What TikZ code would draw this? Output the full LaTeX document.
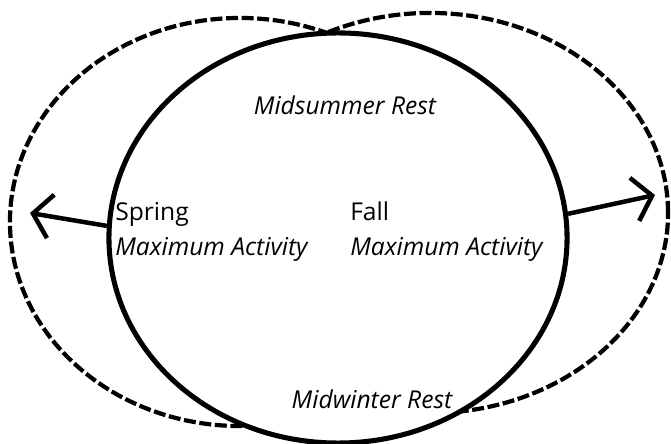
\documentclass[tikz,border=0pt]{standalone}
\usepackage{fontspec}
\setmainfont{Open Sans}
\usetikzlibrary{arrows.meta,shapes.geometric}

\begin{document}
\begin{tikzpicture}[
    x=0.025cm, y=-0.025cm,
    cyclebox/.style={draw, ellipse, line width=3.6pt, fill=white, minimum width=11.45cm, minimum height=10.25cm, inner sep=0pt},
    lobe/.style={line width=3pt, dash pattern=on 0.3cm off 0.09cm},
    season/.style={font=\fontsize{17.5}{21}\selectfont, inner sep=0pt},
    phase/.style={font=\fontsize{17.5}{21}\selectfont\itshape, inner sep=0pt},
    arr/.style={-{Straight Barb[length=0.45cm, width=1.1cm, line width=3.2pt]}, line width=3.2pt}
]
\useasboundingbox (0,0) rectangle (671,444);

% dashed outer lobes
\draw[lobe] (240,222) ellipse [x radius=5.75cm, y radius=5.1cm];
\draw[lobe] (430,213) ellipse [x radius=5.95cm, y radius=5cm];

% solid year cycle
\node[cyclebox] (cycle) at (338,238) {};

\node[phase] (summer) at (345,105) {Midsummer Rest};
\node[phase] (winter) at (372,399) {Midwinter Rest};
\node[season, anchor=base west] (spring) at (115,221) {Spring};
\node[phase, anchor=base west] (springmax) at (115,256) {Maximum Activity};
\node[season, anchor=base west] (fall) at (350,221) {Fall};
\node[phase, anchor=base west] (fallmax) at (350,256) {Maximum Activity};

\coordinate (springtip) at (30,213);
\coordinate (falltip) at (655,195);
\draw[arr] (cycle.177) -- (springtip);
\draw[arr] (cycle.6) -- (falltip);
\end{tikzpicture}
\end{document}
